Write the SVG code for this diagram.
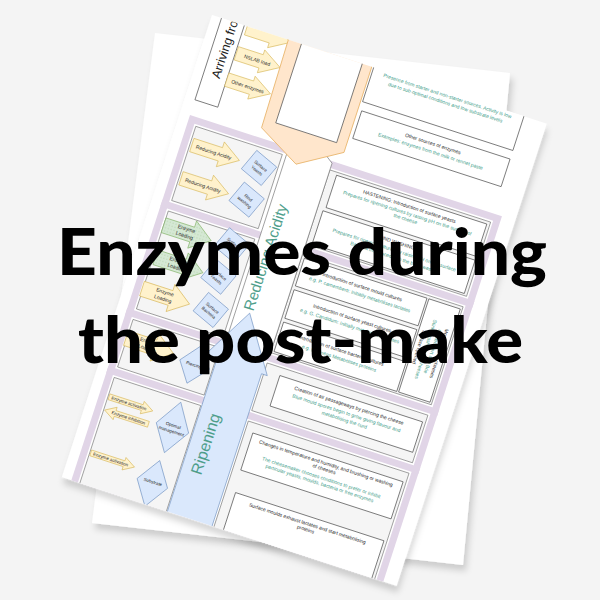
<svg xmlns="http://www.w3.org/2000/svg" xmlns:xlink="http://www.w3.org/1999/xlink" width="600" height="600" viewBox="0 0 600 600">
<defs>
<style>
.t{font-family:"Liberation Sans",Arial,sans-serif;font-size:5px;fill:#2a2a2a;text-anchor:middle}
.g{fill:#3f9e8a}
.s{font-size:4.5px}
.pn{fill:#f5f5f5;stroke:#707070;stroke-width:.6}
.bx{fill:#fff;stroke:#3a3a3a;stroke-width:.6}
.ya{fill:#fff2cc;stroke:#d6b656;stroke-width:.6}
.ga{fill:url(#dots);stroke:#82b366;stroke-width:.6}
.di{fill:#dae8fc;stroke:#6c8ebf;stroke-width:.6}
.big{font-family:"Liberation Sans",Arial,sans-serif;fill:#4e9e8a;text-anchor:middle}
</style>
<pattern id="dots" width="3" height="3" patternUnits="userSpaceOnUse">
<rect width="3" height="3" fill="#d5e8d4"/>
<circle cx="1.5" cy="1.5" r=".45" fill="#9cc58f"/>
</pattern>
<path id="ar" d="M-25,-7H5V-13L25,0L5,13V7H-25Z"/>
<path id="ar2" d="M-23,-7H3V-12L23,0L3,12V7H-23Z"/>
<path id="sa" d="M-23,-3H12V-6.5L23,0L12,6.5V3H-23Z"/>
<filter id="sh" x="-10%" y="-10%" width="130%" height="130%">
<feDropShadow dx="3" dy="6" stdDeviation="3" flood-color="#000" flood-opacity="0.16"/>
</filter>
<clipPath id="pc"><rect x="-10" y="-102" width="352" height="486"/></clipPath>
</defs>

<rect width="600" height="600" fill="#f4f4f4"/>

<g id="sheets">
<polygon id="sheet-back" points="155,33 510,73 463,565 92,523" fill="#fff" filter="url(#sh)"/>
</g>

<g id="page" transform="matrix(0.9511 0.3090 -0.3090 0.9511 190 115)">
<rect x="-10" y="-102" width="352" height="486" fill="#fff" filter="url(#sh)"/>
<g clip-path="url(#pc)">

<g id="frame">
<rect x="0" y="0" width="328" height="430" fill="#e1d5e7"/>
<rect x="7" y="7" width="314" height="430" fill="#fff"/>
<rect x="0" y="89" width="328" height="7" fill="#e1d5e7"/>
<rect x="0" y="203" width="328" height="7" fill="#e1d5e7"/>
<rect x="0" y="264" width="328" height="7" fill="#e1d5e7"/>
<rect class="pn" x="9" y="9" width="91" height="78"/>
<rect class="pn" x="150" y="9" width="169" height="78"/>
<rect class="pn" x="9" y="98" width="91" height="103"/>
<rect class="pn" x="150" y="98" width="169" height="103"/>
<rect class="pn" x="9" y="212" width="91" height="50"/>
<rect class="pn" x="150" y="212" width="169" height="50"/>
<rect class="pn" x="9" y="273" width="91" height="150"/>
<rect class="pn" x="150" y="273" width="169" height="150"/>
</g>

<g id="reducing-acidity">
<polygon points="104,205 104,2 127,-14 150,2 150,205" fill="#fff" stroke="#707070" stroke-width=".6"/>
<text class="big" font-size="15" transform="translate(121,112) rotate(-90)">Reducing Acidity</text>
</g>

<g id="ripening">
<polygon points="118,170 154,224 148,224 148,430 101,430 101,224 88,224" fill="#dae8fc" stroke="#6c8ebf" stroke-width=".6"/>
<text class="big" font-size="16" transform="translate(122,308) rotate(-90)">Ripening</text>
</g>

<g id="arriving">
<rect class="bx" x="0" y="-112" width="24" height="96"/>
<text font-family="Liberation Sans,Arial,sans-serif" font-size="12.5" fill="#222" transform="translate(17,-43) rotate(-90)">Arriving from</text>
</g>
<g id="a-top"><use xlink:href="#ar2" class="ya" transform="translate(50,-100)"/></g>
<g id="a-nslab"><use xlink:href="#ar2" class="ya" transform="translate(48,-73)"/><text class="t" x="47" y="-71">NSLAB load</text></g>
<g id="a-other"><use xlink:href="#ar2" class="ya" transform="translate(47,-45)"/><text class="t" x="46" y="-43">Other enzymes</text></g>

<g id="curd">
<polygon points="70,-115 158,-115 158,-12 116,14 72,-10" fill="#ffe6cc" stroke="#e8b46a" stroke-width=".8"/>
<rect x="84" y="-110" width="64" height="91" fill="#fff" stroke="#555" stroke-width=".7"/>
</g>

<g id="presence">
<rect class="bx" x="160" y="-112" width="158" height="46"/>
<text class="t g" x="239" y="-96">Presence from starter and non-starter sources. Activity is low</text>
<text class="t g" x="239" y="-89">due to sub-optimal conditions and low substrate levels</text>
</g>
<g id="other-sources">
<rect class="bx" x="162" y="-57" width="156" height="29"/>
<text class="t" x="240" y="-46">Other sources of enzymes</text>
<text class="t g" x="240" y="-38">Examples: enzymes from the milk or rennet paste</text>
</g>

<g id="s1-ra1"><use xlink:href="#ar" class="ya" transform="translate(36,28)"/><text class="t" x="34" y="30">Reducing Acidity</text></g>
<g id="s1-ra2"><use xlink:href="#ar" class="ya" transform="translate(36,63)"/><text class="t" x="34" y="65">Reducing Acidity</text></g>
<g id="s1-sy" transform="translate(82,29) rotate(22)"><rect class="di" x="-13" y="-12" width="26" height="24"/><text class="t s" y="-1">Surface</text><text class="t s" y="5">Yeasts</text></g>
<g id="s1-rw" transform="translate(80,63) rotate(22)"><rect class="di" x="-13" y="-12" width="26" height="24"/><text class="t s" y="-1">Rind</text><text class="t s" y="5">washing</text></g>

<g id="s2-el1"><use xlink:href="#ar" class="ga" transform="translate(34,113) scale(1,1.1)"/><text class="t" x="32" y="111">Enzyme</text><text class="t" x="32" y="118">Loading</text></g>
<g id="s2-el2"><use xlink:href="#ar" class="ga" transform="translate(36,146) scale(1,1.1)"/><text class="t" x="34" y="144">Enzyme</text><text class="t" x="34" y="151">Loading</text></g>
<g id="s2-el3"><use xlink:href="#ar" class="ya" transform="translate(33,180) scale(1,1.1)"/><text class="t" x="31" y="178">Enzyme</text><text class="t" x="31" y="185">Loading</text></g>
<g id="s2-sm" transform="translate(80,111) rotate(22)"><rect class="di" x="-13" y="-12" width="26" height="24"/><text class="t s" y="-1">Surface</text><text class="t s" y="5">Moulds</text></g>
<g id="s2-sy" transform="translate(77,145) rotate(22)"><rect class="di" x="-13" y="-12" width="26" height="24"/><text class="t s" y="-1">Surface</text><text class="t s" y="5">Yeasts</text></g>
<g id="s2-sb" transform="translate(80,179) rotate(22)"><rect class="di" x="-13" y="-12" width="26" height="24"/><text class="t s" y="-1">Surface</text><text class="t s" y="5">Bacteria</text></g>

<g id="s3-el"><use xlink:href="#ar" class="ya" transform="translate(33,232) scale(1,1.1)"/><text class="t" x="31" y="230">Enzyme</text><text class="t" x="31" y="237">Loading</text></g>
<g id="s3-pi"><polygon class="di" points="82,216 97,236 80,256 66,236"/><text class="t s" x="81" y="238">Piercing</text></g>

<g id="s4-ea1"><use xlink:href="#sa" class="ya" transform="translate(33,293)"/><text class="t s" x="31" y="294.6">Enzyme activation</text></g>
<g id="s4-ei"><use xlink:href="#sa" class="ya" transform="translate(33,307) scale(-1,1)"/><text class="t s" x="35" y="308.6">Enzyme inhibition</text></g>
<g id="s4-om"><polygon class="di" points="80,276 97,303 80,329 63,303"/><text class="t s" x="80" y="302">Optimal</text><text class="t s" x="80" y="308">management</text></g>
<g id="s4-ea2"><use xlink:href="#sa" class="ya" transform="translate(33,352)"/><text class="t s" x="31" y="353.6">Enzyme activation</text></g>
<g id="s4-su"><polygon class="di" points="78,338 94,362 78,386 62,362"/><text class="t s" x="78" y="362">Substrate</text></g>

<g id="hastening">
<rect class="bx" x="158" y="12" width="158" height="34"/>
<text class="t" x="237" y="21">HASTENING: Introduction of surface yeasts</text>
<text class="t g" x="237" y="28">Prepares for ripening cultures by raising pH on the surface of</text>
<text class="t g" x="237" y="34">the cheese</text>
</g>
<g id="rind-washing">
<rect class="bx" x="156" y="50" width="160" height="35"/>
<text class="t" x="236" y="59">RIND WASHING</text>
<text class="t g" x="236" y="67">Prepares for ripening cultures by raising pH on the surface</text>
<text class="t g" x="236" y="74">Bacteria introduced with the brine wash</text>
</g>

<g id="mould">
<rect class="bx" x="153" y="101" width="129" height="29"/>
<text class="t" x="217" y="112">Introduction of surface mould cultures</text>
<text class="t g" x="217" y="120">e.g. P. camemberti: Initially metabolises lactates</text>
</g>
<g id="yeast">
<rect class="bx" x="153" y="134" width="129" height="30"/>
<text class="t" x="217" y="145">Introduction of surface yeast cultures</text>
<text class="t g" x="217" y="153">e.g. G. Candidum: Initially metabolises lactates</text>
</g>
<g id="bacteria">
<rect class="bx" x="153" y="168" width="129" height="31"/>
<text class="t" x="217" y="179">Introduction of surface bacterial cultures</text>
<text class="t g" x="217" y="187">e.g. B. Linens Metabolises proteins</text>
</g>
<g id="cheese-types">
<rect class="bx" x="284" y="101" width="33" height="98"/>
<text class="t" transform="translate(309,150) rotate(90)">Mould ripened cheeses</text>
<text class="t g" transform="translate(302,150) rotate(90)">Camembert and Brie</text>
<text class="t g" transform="translate(295,150) rotate(90)">Stinky washed rind cheeses</text>
<text class="t" transform="translate(288,150) rotate(90)">Surface ripened</text>
</g>

<g id="piercing-box">
<rect class="bx" x="166" y="220" width="150" height="32"/>
<text class="t" x="241" y="229">Creation of air passageways by piercing the cheese</text>
<text class="t g" x="241" y="237">Blue mould spores begin to grow giving flavour and</text>
<text class="t g" x="241" y="244">metabolising the curd</text>
</g>
<g id="changes">
<rect class="bx" x="158" y="283" width="158" height="39"/>
<text class="t" x="237" y="291">Changes in temperature and humidity, and brushing or washing</text>
<text class="t" x="237" y="297">of cheeses</text>
<text class="t g" x="237" y="306">The cheesemaker chooses conditions to prefer or inhibit</text>
<text class="t g" x="237" y="312">particular yeasts, moulds, bacteria or free enzymes</text>
</g>
<g id="surface-moulds">
<rect class="bx" x="160" y="345" width="156" height="80"/>
<text class="t" x="238" y="354">Surface moulds exhaust lactates and start metabolising</text>
<text class="t" x="238" y="360">proteins</text>
</g>

</g>
</g>

<g id="title" font-family="Lato,'Noto Sans',sans-serif" font-weight="900" font-size="64" fill="#000">
<text x="57" y="275" textLength="490" lengthAdjust="spacingAndGlyphs">Enzymes during</text>
<text x="78" y="363" textLength="445" lengthAdjust="spacingAndGlyphs">the post-make</text>
</g>
</svg>
